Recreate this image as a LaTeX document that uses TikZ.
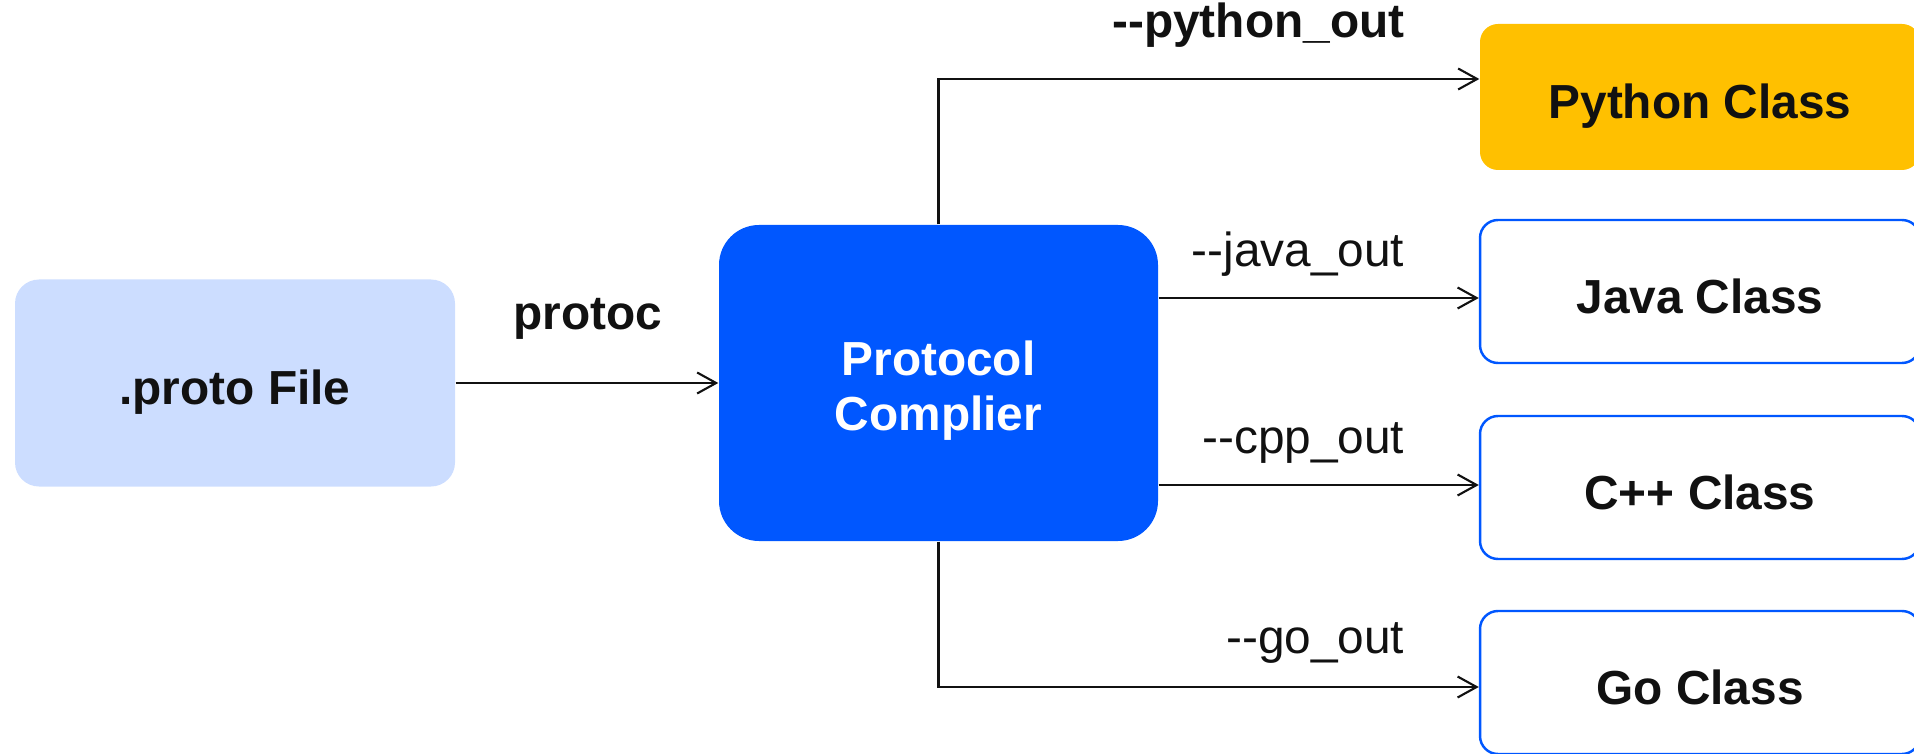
\documentclass[tikz,border=0pt]{standalone}
\usepackage{fontspec}
\setmainfont{Liberation Sans}
\usetikzlibrary{arrows.meta, positioning}
\definecolor{paleblue}{HTML}{CCDDFF}
\definecolor{protoblue}{HTML}{0057FF}
\definecolor{amber}{HTML}{FFC000}
\definecolor{inkblack}{HTML}{111111}

\begin{document}
\begin{tikzpicture}[
        font=\fontsize{13.6}{15.6}\selectfont,
        box/.style={rounded corners=1.8mm, minimum width=4.4cm, minimum height=1.43cm,
            text height=12.3pt, text depth=0pt,
            text=inkblack, font=\fontsize{13.6}{15.6}\selectfont\bfseries},
        outbox/.style={box, draw=protoblue, line width=0.7pt, fill=white},
        flag/.style={anchor=base east, inner sep=0pt, text=inkblack},
        conn/.style={-{Straight Barb[length=1.9mm, width=2.1mm]}, line width=0.6pt, draw=inkblack},
    ]
        \useasboundingbox (0, 0) rectangle (19.14, 7.53);

        \node[box, fill=paleblue, rounded corners=2.4mm, minimum height=2.07cm] (proto) at (2.35, 3.70) {.proto File};
        \node[box, fill=protoblue, text=white, rounded corners=4mm, minimum width=4.39cm,
            minimum height=3.16cm, align=center, text height=, text depth=] (compiler) at (9.385, 3.70) {};
        \node[text=white, font=\fontsize{13.6}{15.6}\selectfont\bfseries, align=center,
            yshift=-0.8mm] (compiler-text) at (compiler) {Protocol\\Complier};

        \node[box, fill=amber, minimum height=1.46cm] (python) at (17.00, 6.56) {Python Class};
        \node[outbox] (java) at (17.00, 4.615) {Java Class};
        \node[outbox] (cpp) at (17.00, 2.655) {C++ Class};
        \node[outbox] (go) at (17.00, 0.705) {Go Class};

        \coordinate (py-in) at (python.west |- 0, 6.74);
        \coordinate (java-in) at (java.west |- 0, 4.55);
        \coordinate (cpp-in) at (cpp.west |- 0, 2.68);
        \coordinate (go-in) at (go.west |- 0, 0.66);

        \node[flag, font=\fontsize{13.6}{15.6}\selectfont\bfseries] (protoc) at (6.63, 4.23) {protoc};
        \node[flag, font=\fontsize{13.6}{15.6}\selectfont\bfseries] (py-flag) at (14.05, 7.15) {-{}-python\_out};
        \node[flag] (java-flag) at (14.05, 4.86) {-{}-java\_out};
        \node[flag] (cpp-flag) at (14.05, 3.00) {-{}-cpp\_out};
        \node[flag] (go-flag) at (14.05, 1.00) {-{}-go\_out};

        \draw[conn] (proto) -- (compiler);
        \draw[conn] (compiler.north) |- (py-in);
        \draw[conn] (compiler.east |- java-in) -- (java-in);
        \draw[conn] (compiler.east |- cpp-in) -- (cpp-in);
        \draw[conn] (compiler.south) |- (go-in);
    \end{tikzpicture}
\end{document}
